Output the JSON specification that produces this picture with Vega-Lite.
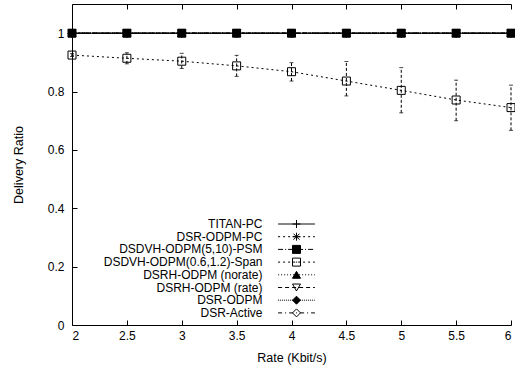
{
  "$schema": "https://vega.github.io/schema/vega-lite/v6.json",
  "autosize": "none",
  "width": 439,
  "height": 321,
  "padding": {"left": 72, "top": 4, "right": 4, "bottom": 44},
  "background": "white",
  "config": {
    "font": "Liberation Sans",
    "view": {"stroke": null},
    "axis": {"labelFont": "Liberation Sans", "labelFontSize": 12, "labelColor": "black", "titleFont": "Liberation Sans", "titleFontSize": 12.5, "titleFontWeight": "normal", "titleColor": "black", "domainColor": "black", "tickColor": "black", "grid": false},
    "legend": {"labelFont": "Liberation Sans", "labelFontSize": 12, "labelColor": "black", "labelLimit": 400}
  },
  "datasets": {
    "main": [
      {"series": "TITAN-PC", "rate": 2, "ratio": 1}, {"series": "TITAN-PC", "rate": 2.5, "ratio": 1}, {"series": "TITAN-PC", "rate": 3, "ratio": 1}, {"series": "TITAN-PC", "rate": 3.5, "ratio": 1}, {"series": "TITAN-PC", "rate": 4, "ratio": 1}, {"series": "TITAN-PC", "rate": 4.5, "ratio": 1}, {"series": "TITAN-PC", "rate": 5, "ratio": 1}, {"series": "TITAN-PC", "rate": 5.5, "ratio": 1}, {"series": "TITAN-PC", "rate": 6, "ratio": 1},
      {"series": "DSR-ODPM-PC", "rate": 2, "ratio": 1}, {"series": "DSR-ODPM-PC", "rate": 2.5, "ratio": 1}, {"series": "DSR-ODPM-PC", "rate": 3, "ratio": 1}, {"series": "DSR-ODPM-PC", "rate": 3.5, "ratio": 1}, {"series": "DSR-ODPM-PC", "rate": 4, "ratio": 1}, {"series": "DSR-ODPM-PC", "rate": 4.5, "ratio": 1}, {"series": "DSR-ODPM-PC", "rate": 5, "ratio": 1}, {"series": "DSR-ODPM-PC", "rate": 5.5, "ratio": 1}, {"series": "DSR-ODPM-PC", "rate": 6, "ratio": 1},
      {"series": "DSDVH-ODPM(5,10)-PSM", "rate": 2, "ratio": 1}, {"series": "DSDVH-ODPM(5,10)-PSM", "rate": 2.5, "ratio": 1}, {"series": "DSDVH-ODPM(5,10)-PSM", "rate": 3, "ratio": 1}, {"series": "DSDVH-ODPM(5,10)-PSM", "rate": 3.5, "ratio": 1}, {"series": "DSDVH-ODPM(5,10)-PSM", "rate": 4, "ratio": 1}, {"series": "DSDVH-ODPM(5,10)-PSM", "rate": 4.5, "ratio": 1}, {"series": "DSDVH-ODPM(5,10)-PSM", "rate": 5, "ratio": 1}, {"series": "DSDVH-ODPM(5,10)-PSM", "rate": 5.5, "ratio": 1}, {"series": "DSDVH-ODPM(5,10)-PSM", "rate": 6, "ratio": 1},
      {"series": "DSDVH-ODPM(0.6,1.2)-Span", "rate": 2, "ratio": 0.925}, {"series": "DSDVH-ODPM(0.6,1.2)-Span", "rate": 2.5, "ratio": 0.914}, {"series": "DSDVH-ODPM(0.6,1.2)-Span", "rate": 3, "ratio": 0.904}, {"series": "DSDVH-ODPM(0.6,1.2)-Span", "rate": 3.5, "ratio": 0.888}, {"series": "DSDVH-ODPM(0.6,1.2)-Span", "rate": 4, "ratio": 0.868}, {"series": "DSDVH-ODPM(0.6,1.2)-Span", "rate": 4.5, "ratio": 0.836}, {"series": "DSDVH-ODPM(0.6,1.2)-Span", "rate": 5, "ratio": 0.804}, {"series": "DSDVH-ODPM(0.6,1.2)-Span", "rate": 5.5, "ratio": 0.771}, {"series": "DSDVH-ODPM(0.6,1.2)-Span", "rate": 6, "ratio": 0.745},
      {"series": "DSRH-ODPM (norate)", "rate": 2, "ratio": 1}, {"series": "DSRH-ODPM (norate)", "rate": 2.5, "ratio": 1}, {"series": "DSRH-ODPM (norate)", "rate": 3, "ratio": 1}, {"series": "DSRH-ODPM (norate)", "rate": 3.5, "ratio": 1}, {"series": "DSRH-ODPM (norate)", "rate": 4, "ratio": 1}, {"series": "DSRH-ODPM (norate)", "rate": 4.5, "ratio": 1}, {"series": "DSRH-ODPM (norate)", "rate": 5, "ratio": 1}, {"series": "DSRH-ODPM (norate)", "rate": 5.5, "ratio": 1}, {"series": "DSRH-ODPM (norate)", "rate": 6, "ratio": 1},
      {"series": "DSRH-ODPM (rate)", "rate": 2, "ratio": 1}, {"series": "DSRH-ODPM (rate)", "rate": 2.5, "ratio": 1}, {"series": "DSRH-ODPM (rate)", "rate": 3, "ratio": 1}, {"series": "DSRH-ODPM (rate)", "rate": 3.5, "ratio": 1}, {"series": "DSRH-ODPM (rate)", "rate": 4, "ratio": 1}, {"series": "DSRH-ODPM (rate)", "rate": 4.5, "ratio": 1}, {"series": "DSRH-ODPM (rate)", "rate": 5, "ratio": 1}, {"series": "DSRH-ODPM (rate)", "rate": 5.5, "ratio": 1}, {"series": "DSRH-ODPM (rate)", "rate": 6, "ratio": 1},
      {"series": "DSR-ODPM", "rate": 2, "ratio": 1}, {"series": "DSR-ODPM", "rate": 2.5, "ratio": 1}, {"series": "DSR-ODPM", "rate": 3, "ratio": 1}, {"series": "DSR-ODPM", "rate": 3.5, "ratio": 1}, {"series": "DSR-ODPM", "rate": 4, "ratio": 1}, {"series": "DSR-ODPM", "rate": 4.5, "ratio": 1}, {"series": "DSR-ODPM", "rate": 5, "ratio": 1}, {"series": "DSR-ODPM", "rate": 5.5, "ratio": 1}, {"series": "DSR-ODPM", "rate": 6, "ratio": 1},
      {"series": "DSR-Active", "rate": 2, "ratio": 1}, {"series": "DSR-Active", "rate": 2.5, "ratio": 1}, {"series": "DSR-Active", "rate": 3, "ratio": 1}, {"series": "DSR-Active", "rate": 3.5, "ratio": 1}, {"series": "DSR-Active", "rate": 4, "ratio": 1}, {"series": "DSR-Active", "rate": 4.5, "ratio": 1}, {"series": "DSR-Active", "rate": 5, "ratio": 1}, {"series": "DSR-Active", "rate": 5.5, "ratio": 1}, {"series": "DSR-Active", "rate": 6, "ratio": 1}
    ],
    "err": [
      {"rate": 2, "lo": 0.92, "hi": 0.93},
      {"rate": 2.5, "lo": 0.895, "hi": 0.933},
      {"rate": 3, "lo": 0.879, "hi": 0.931},
      {"rate": 3.5, "lo": 0.852, "hi": 0.924},
      {"rate": 4, "lo": 0.836, "hi": 0.899},
      {"rate": 4.5, "lo": 0.785, "hi": 0.903},
      {"rate": 5, "lo": 0.727, "hi": 0.882},
      {"rate": 5.5, "lo": 0.7, "hi": 0.839},
      {"rate": 6, "lo": 0.667, "hi": 0.822}
    ]
  },
  "resolve": {"axis": {"x": "independent", "y": "independent"}, "legend": {"strokeDash": "independent"}},
  "layer": [
    {
      "data": {"name": "main"},
      "mark": {"type": "line", "color": "black", "strokeWidth": 1},
      "encoding": {
        "x": {"field": "rate", "type": "quantitative", "scale": {"domain": [2, 6], "nice": false, "zero": false},
              "axis": {"orient": "bottom", "values": [2, 2.5, 3, 3.5, 4, 4.5, 5, 5.5, 6], "format": "~g", "tickSize": -5, "labelPadding": 10, "title": "Rate (Kbit/s)", "titlePadding": 10, "domain": true}},
        "y": {"field": "ratio", "type": "quantitative", "scale": {"domain": [0, 1.1], "nice": false},
              "axis": {"orient": "left", "values": [0, 0.2, 0.4, 0.6, 0.8, 1], "format": "~g", "tickSize": -5, "labelPadding": 13, "title": "Delivery Ratio", "titlePadding": 22, "domain": true}},
        "strokeDash": {"field": "series", "type": "nominal",
          "scale": {"domain": ["TITAN-PC", "DSR-ODPM-PC", "DSDVH-ODPM(5,10)-PSM", "DSDVH-ODPM(0.6,1.2)-Span", "DSRH-ODPM (norate)", "DSRH-ODPM (rate)", "DSR-ODPM", "DSR-Active"],
                    "range": [[1, 0], [2, 3], [5, 2, 1, 2], [2, 3], [1, 2], [4, 3], [1, 1], [4, 3, 1, 3]]},
          "legend": {"orient": "none", "legendX": 214.5, "legendY": 214, "title": null, "symbolType": "M-4.6,0H4.6", "symbolSize": 64, "symbolStrokeWidth": 1, "symbolStrokeColor": "black", "labelAlign": "right", "labelOffset": -40, "symbolOffset": 4, "rowPadding": 0.7, "padding": 0}}
      }
    },
    {
      "data": {"name": "err"},
      "mark": {"type": "rule", "color": "black", "strokeWidth": 1, "strokeDash": [3, 2]},
      "encoding": {
        "x": {"field": "rate", "type": "quantitative", "axis": {"orient": "top", "values": [2, 2.5, 3, 3.5, 4, 4.5, 5, 5.5, 6], "labels": false, "tickSize": -5, "title": null, "domain": true}},
        "y": {"field": "lo", "type": "quantitative", "axis": null},
        "y2": {"field": "hi"}
      }
    },
    {
      "data": {"name": "err"},
      "mark": {"type": "tick", "orient": "horizontal", "color": "black", "size": 4, "thickness": 1},
      "encoding": {
        "x": {"field": "rate", "type": "quantitative", "axis": null},
        "y": {"field": "lo", "type": "quantitative", "axis": null}
      }
    },
    {
      "data": {"name": "err"},
      "mark": {"type": "tick", "orient": "horizontal", "color": "black", "size": 4, "thickness": 1},
      "encoding": {
        "x": {"field": "rate", "type": "quantitative", "axis": null},
        "y": {"field": "hi", "type": "quantitative", "axis": null}
      }
    },
    {
      "data": {"name": "main"},
      "mark": {"type": "point", "filled": true, "strokeWidth": 1, "size": 64, "opacity": 1},
      "encoding": {
        "x": {"field": "rate", "type": "quantitative", "axis": null},
        "y": {"field": "ratio", "type": "quantitative", "axis": null},
        "shape": {"field": "series", "type": "nominal",
          "scale": {"domain": ["TITAN-PC", "DSR-ODPM-PC", "DSDVH-ODPM(5,10)-PSM", "DSDVH-ODPM(0.6,1.2)-Span", "DSRH-ODPM (norate)", "DSRH-ODPM (rate)", "DSR-ODPM", "DSR-Active"],
                    "range": ["M-1,0H1M0,-1V1", "M-1,0H1M0,-1V1M-0.75,-0.75L0.75,0.75M-0.75,0.75L0.75,-0.75", "square", "M-1,-1H1V1H-1ZM-0.15,0H0.15", "triangle-up", "triangle-down", "diamond", "diamond"]},
          "legend": {"orient": "none", "legendX": 214.5, "legendY": 214, "title": null, "symbolSize": 64, "symbolStrokeWidth": 1, "labelAlign": "right", "labelOffset": -40, "symbolOffset": 4, "labelOpacity": 0, "rowPadding": 0.7, "padding": 0}},
        "fill": {"field": "series", "type": "nominal",
          "scale": {"domain": ["TITAN-PC", "DSR-ODPM-PC", "DSDVH-ODPM(5,10)-PSM", "DSDVH-ODPM(0.6,1.2)-Span", "DSRH-ODPM (norate)", "DSRH-ODPM (rate)", "DSR-ODPM", "DSR-Active"],
                    "range": ["transparent", "transparent", "black", "transparent", "black", "transparent", "black", "transparent"]},
          "legend": {"orient": "none", "legendX": 214.5, "legendY": 214, "title": null, "symbolSize": 64, "symbolStrokeWidth": 1, "labelAlign": "right", "labelOffset": -40, "symbolOffset": 4, "labelOpacity": 0, "rowPadding": 0.7, "padding": 0}},
        "stroke": {"field": "series", "type": "nominal",
          "scale": {"domain": ["TITAN-PC", "DSR-ODPM-PC", "DSDVH-ODPM(5,10)-PSM", "DSDVH-ODPM(0.6,1.2)-Span", "DSRH-ODPM (norate)", "DSRH-ODPM (rate)", "DSR-ODPM", "DSR-Active"],
                    "range": ["black", "black", "black", "black", "black", "black", "black", "black"]},
          "legend": {"orient": "none", "legendX": 214.5, "legendY": 214, "title": null, "symbolSize": 64, "symbolStrokeWidth": 1, "labelAlign": "right", "labelOffset": -40, "symbolOffset": 4, "labelOpacity": 0, "rowPadding": 0.7, "padding": 0}}
      }
    }
  ]
}
